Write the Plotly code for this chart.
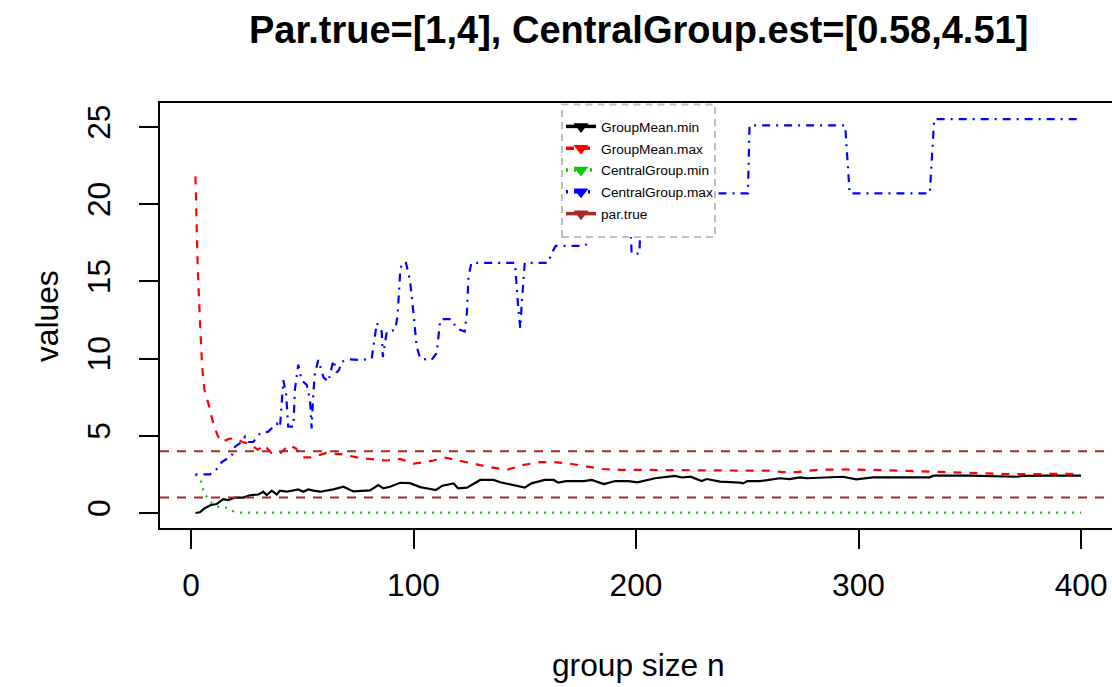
import plotly.graph_objects as go

# ---------------- data ----------------
gm_min_x = [2, 4, 6, 9, 11.5, 14.5, 16.7, 19.8, 23.5, 26.5, 30.3, 32.5, 34, 36.3, 38.5, 40, 43, 48.2, 50.5,
            52.7, 55, 58, 64, 68.5, 73, 80.4, 84.2, 86.4, 89.4, 94, 98.4, 103, 107, 110, 113, 118, 120, 124,
            130, 136, 139, 148, 150, 153, 159, 163, 165, 168.6, 176.6, 180, 185.6, 190.6, 196.6, 200.6,
            208.6, 217.5, 220.6, 224.5, 229.5, 231.8, 237.8, 246.7, 248.2, 250, 255.7, 264.7, 269, 273.7,
            276.7, 293, 295, 299, 306.5, 318.5, 332, 333.6, 350, 371, 374, 383, 400]
gm_min_y = [0, 0.05, 0.3, 0.52, 0.58, 0.9, 0.84, 1.0, 1.0, 1.15, 1.2, 1.38, 1.16, 1.45, 1.2, 1.45, 1.38, 1.53,
            1.38, 1.53, 1.45, 1.38, 1.53, 1.7, 1.4, 1.47, 1.81, 1.6, 1.7, 1.96, 1.93, 1.68, 1.57, 1.49, 1.77,
            1.92, 1.6, 1.64, 2.14, 2.14, 1.99, 1.7, 1.64, 1.92, 2.14, 2.14, 1.97, 2.07, 2.07, 2.14, 1.88, 2.07,
            2.07, 1.99, 2.25, 2.4, 2.3, 2.35, 2.07, 2.2, 2.03, 1.97, 1.92, 2.07, 2.07, 2.25, 2.2, 2.31, 2.25,
            2.35, 2.3, 2.18, 2.31, 2.3, 2.31, 2.42, 2.42, 2.35, 2.4, 2.42, 2.42]

gm_max_x = [2, 3, 4, 5, 6, 8, 10, 12, 14, 17, 20, 23, 26, 30, 33, 36, 40, 44, 47, 50, 54, 61, 68, 74.6, 80,
            88, 94, 100, 105, 109, 113.7, 120, 127, 135, 142, 149, 157, 163, 170, 177.6, 185, 192.6, 206.6,
            222.5, 234.5, 246.5, 260, 266, 272, 282, 294, 302, 310, 322, 338, 352, 366, 380, 394, 400]
gm_max_y = [21.8, 16, 12.5, 9.5, 8, 7, 5.8, 5, 4.6, 4.8, 4.85, 4.6, 4.5, 4.1, 4.4, 3.9, 3.85, 4.4, 4.2, 3.6,
            3.6, 3.9, 3.8, 3.6, 3.5, 3.4, 3.5, 3.2, 3.3, 3.4, 3.6, 3.4, 3.2, 2.95, 2.8, 3.1, 3.3, 3.3, 3.2,
            3.0, 2.85, 2.8, 2.78, 2.75, 2.72, 2.75, 2.75, 2.65, 2.65, 2.8, 2.82, 2.82, 2.78, 2.73, 2.64, 2.58,
            2.52, 2.52, 2.54, 2.5]

cg_min_x = [2, 4.5, 5.5, 7, 9.6, 12.7, 15.7, 18.7, 22, 100, 200, 300, 400]
cg_min_y = [2.5, 2.03, 1.49, 1.06, 0.58, 0.37, 0.35, 0.13, 0.03, 0.03, 0.03, 0.03, 0.03]

cg_max_x = [2, 8.5, 11.2, 13.8, 18.3, 19.8, 22.8, 24.3, 25.8, 28, 31, 34.7, 38.5, 40, 41.5, 42.7, 43.7, 46,
            46.7, 48.2, 49.7, 52, 53.5, 54.2, 55, 55.7, 57.2, 59.5, 61.7, 64, 65.5, 66.5, 67.7, 71.5, 76,
            81.2, 83.5, 85.7, 86.2, 87.2, 88, 91.7, 92.8, 94, 94.7, 96.6, 98.4, 100, 101.4, 103, 108, 110.4,
            112, 113.4, 117, 119.4, 123, 124, 124.7, 126, 145.6, 147, 148, 148.6, 149.3, 150, 160.5, 162,
            163.9, 177, 178, 181, 197, 198, 201.5, 202.5, 250.3, 251, 294, 296, 332, 334, 400]
cg_max_y = [2.5, 2.5, 2.78, 3.3, 3.7, 4.3, 4.6, 4.95, 4.6, 4.6, 5.16, 5.27, 5.8, 5.55, 8.6, 7.75, 5.6, 5.6,
            8.0, 9.6, 8.6, 8.3, 7.3, 5.48, 7.8, 9.05, 9.9, 8.8, 8.5, 9.9, 9.1, 9.26, 9.8, 9.95, 9.9, 10.0,
            12.3, 11.75, 10.1, 11.1, 11.75, 11.85, 12.7, 15.6, 16.2, 16.2, 15.1, 12.9, 10.8, 10.0, 9.9, 10.35,
            12.5, 12.55, 12.55, 11.95, 11.75, 13.0, 15.3, 16.2, 16.2, 13.4, 11.96, 13.5, 15.1, 16.2, 16.2,
            16.8, 17.3, 17.3, 17.45, 20.7, 20.7, 16.8, 16.8, 20.7, 20.7, 25.1, 25.1, 20.7, 20.7, 25.5, 25.5]

par_true = [1, 4]

series_names = ["GroupMean.min", "GroupMean.max", "CentralGroup.min", "CentralGroup.max", "par.true"]
series_colors = ["#000000", "#FF0000", "#00CD00", "#0000FF", "#A52A2A"]
series_dash = ["solid", "8px,8px", "2px,6px", "2px,6px,8px,6px", "solid"]

title_text = "Par.true=[1,4], CentralGroup.est=[0.58,4.51]"
x_ticks = [0, 100, 200, 300, 400]
y_ticks = [0, 5, 10, 15, 20, 25]

FONT = "Liberation Sans, Arial, Helvetica, sans-serif"

fig = go.Figure()

data_sets = [(gm_min_x, gm_min_y), (gm_max_x, gm_max_y), (cg_min_x, cg_min_y), (cg_max_x, cg_max_y)]
for i, (xs, ys) in enumerate(data_sets):
    fig.add_trace(go.Scatter(
        x=xs, y=ys, mode="lines", showlegend=False,
        line=dict(color=series_colors[i], width=2.2, dash=series_dash[i]),
        hoverinfo="skip"))

# true parameter reference lines
for v in par_true:
    fig.add_shape(type="line", xref="x domain", x0=0, x1=1, yref="y", y0=v, y1=v,
                  line=dict(color=series_colors[4], width=2, dash="9px,8px"), layer="above")

# legend entries
for i, name in enumerate(series_names):
    fig.add_trace(go.Scatter(
        x=[None], y=[None], mode="lines+markers", name=name, legendgroup=name,
        line=dict(color=series_colors[i], width=3.5, dash=series_dash[i] if i != 4 else "solid"),
        marker=dict(symbol="triangle-down", size=13, color=series_colors[i])))

# legend box (white, dashed gray border)
def px2paper_x(px):
    return (px - 160) / 952.0

def px2paper_y(py):
    return (528 - py) / 425.0

fig.add_shape(type="rect", xref="paper", yref="paper",
              x0=px2paper_x(562), x1=px2paper_x(715), y0=px2paper_y(237), y1=px2paper_y(104.5),
              fillcolor="white", line=dict(color="#BEBEBE", width=2, dash="7px,5px"), layer="above")

fig.update_layout(
    width=1112, height=687,
    margin=dict(l=160, r=0, t=103, b=159),
    paper_bgcolor="white", plot_bgcolor="white",
    font=dict(family=FONT, color="black"),
    showlegend=True,
    legend=dict(x=px2paper_x(561), y=px2paper_y(111), xanchor="left", yanchor="top",
                bgcolor="rgba(0,0,0,0)", borderwidth=0, font=dict(size=13.7, family=FONT),
                tracegroupgap=1, itemsizing="trace"),
    xaxis=dict(range=[-13.93, 413.9], tickvals=x_ticks, ticktext=[str(t) for t in x_ticks],
               showgrid=False, zeroline=False, showline=True, mirror=True, linecolor="black",
               linewidth=2, ticks="outside", ticklen=19, tickwidth=2, tickcolor="black",
               tickfont=dict(size=31.7, family=FONT), ticklabelstandoff=9),
    yaxis=dict(range=[-0.97, 26.55], tickvals=y_ticks, ticktext=[str(t) for t in y_ticks],
               showgrid=False, zeroline=False, showline=True, mirror=False, linecolor="black",
               linewidth=2, ticks="outside", ticklen=19, tickwidth=2, tickcolor="black",
               tickangle=-90, tickfont=dict(size=31.7, family=FONT), ticklabelstandoff=16),
    annotations=[
        dict(text="<b>" + title_text + "</b>", xref="paper", yref="paper", x=px2paper_x(638),
             y=px2paper_y(30), xanchor="center", yanchor="middle", showarrow=False,
             font=dict(size=38, family=FONT)),
        dict(text="values", xref="paper", yref="paper", x=px2paper_x(47), y=px2paper_y(316),
             xanchor="center", yanchor="middle", showarrow=False, textangle=-90,
             font=dict(size=31.7, family=FONT)),
        dict(text="group size n", xref="paper", yref="paper", x=px2paper_x(638), y=px2paper_y(665),
             xanchor="center", yanchor="middle", showarrow=False,
             font=dict(size=31.7, family=FONT)),
    ],
)

fig.write_html("out.html")
